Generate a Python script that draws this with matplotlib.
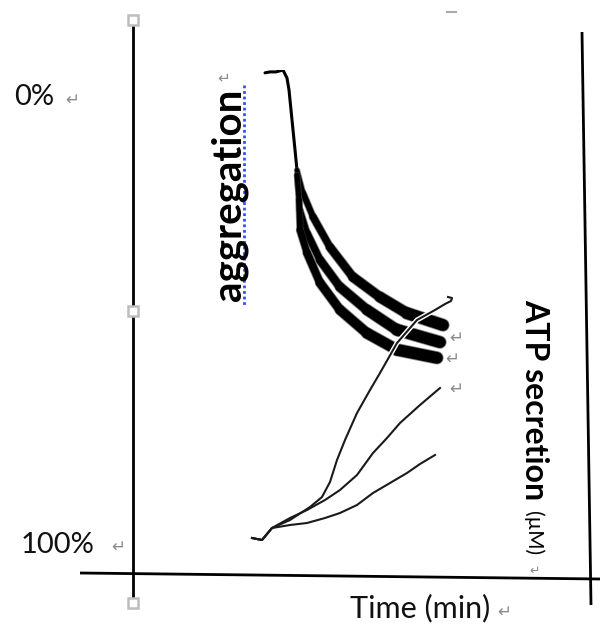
import numpy as np
import matplotlib
matplotlib.use("Agg")
import matplotlib.pyplot as plt
from matplotlib.collections import LineCollection
import matplotlib.patheffects as pe

# ---------------- data ----------------
# aggregation trace: common part before stimulation (time in min, aggregation %)
agg_common_t = [2.64, 2.74, 2.86, 3.00, 3.08, 3.12, 3.16, 3.20, 3.24, 3.28]
agg_common_v = [0.6, 0.4, 0.4, 0.0, 1.7, 4.2, 8.4, 12.6, 16.8, 21.1]

agg_top_t = [3.28, 3.40, 3.60, 3.94, 4.40, 4.94, 5.48, 6.20]
agg_top_v = [21.1, 25.9, 30.9, 37.3, 43.6, 47.8, 51.2, 53.7]

agg_mid_t = [3.28, 3.34, 3.48, 3.74, 4.14, 4.68, 5.28, 6.14]
agg_mid_v = [22.1, 29.5, 34.3, 40.0, 45.7, 50.5, 54.7, 57.3]

agg_bot_t = [3.28, 3.32, 3.34, 3.48, 3.74, 4.14, 4.68, 5.28, 6.08]
agg_bot_v = [22.1, 27.4, 33.7, 38.5, 44.8, 50.5, 55.4, 58.9, 60.6]

# ATP secretion traces (time in min, ATP in uM, arbitrary scale)
atp1_t = [2.38, 2.58, 2.78, 3.14, 3.54, 3.78, 3.94, 4.08, 4.24, 4.48, 4.74,
          4.94, 5.28, 5.68, 6.04, 6.24, 6.36, 6.38, 6.30]
atp1_v = [0.04, 0.00, 0.24, 0.40, 0.66, 0.86, 1.16, 1.60, 2.00, 2.54, 3.00,
          3.34, 3.94, 4.40, 4.60, 4.72, 4.78, 4.84, 4.86]

atp2_t = [2.38, 2.58, 2.78, 3.14, 3.48, 3.84, 4.14, 4.48, 4.80, 5.08, 5.34, 5.74, 6.14]
atp2_v = [0.04, 0.00, 0.24, 0.44, 0.60, 0.80, 1.00, 1.30, 1.74, 2.04, 2.34, 2.70, 3.04]

atp3_t = [2.38, 2.58, 2.78, 3.14, 3.48, 3.84, 4.14, 4.48, 4.80, 5.14, 5.48, 5.74, 6.04]
atp3_v = [0.04, 0.00, 0.24, 0.30, 0.34, 0.44, 0.54, 0.70, 0.94, 1.14, 1.34, 1.52, 1.70]

label_top = "0%"
label_bottom = "100%"
label_agg = "aggregation"
label_atp = "ATP secretion"
label_unit = "(µM)"
label_time = "Time (min)"

# ---------------- figure ----------------
W, H = 600, 626
fig = plt.figure(figsize=(W / 100, H / 100), dpi=100)
fig.patch.set_facecolor("white")

FONT = ["Lato", "DejaVu Sans"]
GRAY = "#8a8a8a"

bg = fig.add_axes([0, 0, 1, 1], zorder=0)
bg.set_xlim(0, W)
bg.set_ylim(H, 0)
bg.axis("off")

# frame lines (page drawing)
bg.plot([133, 133], [20, 603], color="black", lw=2.0, solid_capstyle="butt", zorder=2)
bg.plot([80, 600], [573, 579], color="black", lw=2.0, solid_capstyle="butt", zorder=2)
bg.plot([582, 591], [32, 605], color="black", lw=2.0, solid_capstyle="butt", zorder=2)
bg.plot([133, 133, 133], [20, 311, 603], ls="none", marker="s", ms=6.5,
        mfc="white", mec="#bdbdbd", mew=1.8, zorder=3)
bg.plot([447, 456], [12, 12], color="#aaaaaa", lw=1.5, zorder=2)

# texts
bg.text(14, 97, label_top, fontsize=21, family=FONT, ha="left", va="center", color="#111111")
bg.text(21, 545, label_bottom, fontsize=21, family=FONT, ha="left", va="center", color="#111111")
bg.text(420, 608, label_time, fontsize=22, family=FONT, ha="center", va="center", color="#111111")
bg.text(229, 195, label_agg, fontsize=29, family=FONT, weight="bold", rotation=90,
        ha="center", va="center", color="black")
bg.text(535, 400, label_atp, fontsize=23, family=FONT, weight="bold", rotation=-90,
        ha="center", va="center", color="black")
bg.text(533, 533, label_unit, fontsize=15, family=FONT, rotation=-90,
        ha="center", va="center", color="black")
# spell-check underline
bg.plot([244, 244], [85, 305], color="#3b4bff", lw=2.0, ls=(0, (1, 1)), zorder=2)

# paragraph marks
for (px, py, fs) in [(72, 100, 12), (118, 547, 12), (224, 78, 11), (504, 612, 12),
                     (535, 571, 9), (456, 338, 12), (452, 359, 12), (456, 389, 12)]:
    bg.text(px, py, "\u21b5", fontsize=fs, family=["DejaVu Sans"], color=GRAY,
            ha="center", va="center")

# data axes
ax = fig.add_axes([133 / W, 1 - 545 / H, 450 / W, 475 / H], zorder=1)
ax.set_xlim(0, 9)
ax.set_ylim(100, 0)
ax.axis("off")
ax.patch.set_alpha(0)

ax.plot(agg_common_t, agg_common_v, color="black", lw=2.2, solid_capstyle="round",
        solid_joinstyle="round")

for bt, bv in [(agg_top_t, agg_top_v), (agg_mid_t, agg_mid_v), (agg_bot_t, agg_bot_v)]:
    pts = np.column_stack([bt, bv])
    segs = np.stack([pts[:-1], pts[1:]], axis=1)
    widths = np.linspace(3.4, 8.4, len(segs))
    lc_f = LineCollection(segs, linewidths=widths + 1.2, colors="#3a3a3a",
                          capstyle="round", joinstyle="round", alpha=0.6)
    lc = LineCollection(segs, linewidths=widths, colors="black",
                        capstyle="round", joinstyle="round")
    ax.add_collection(lc_f)
    ax.add_collection(lc)

ax2 = ax.twinx()
ax2.set_ylim(-0.1, 9.4)
ax2.axis("off")
ax2.patch.set_alpha(0)

ax2.plot(atp1_t, atp1_v, color="#1a1a1a", lw=1.5,
         path_effects=[pe.withStroke(linewidth=3.6, foreground="white")])
ax2.plot(atp2_t, atp2_v, color="#1a1a1a", lw=1.5)
ax2.plot(atp3_t, atp3_v, color="#1a1a1a", lw=1.5)

fig.savefig("out.png", dpi=100, facecolor="white")
